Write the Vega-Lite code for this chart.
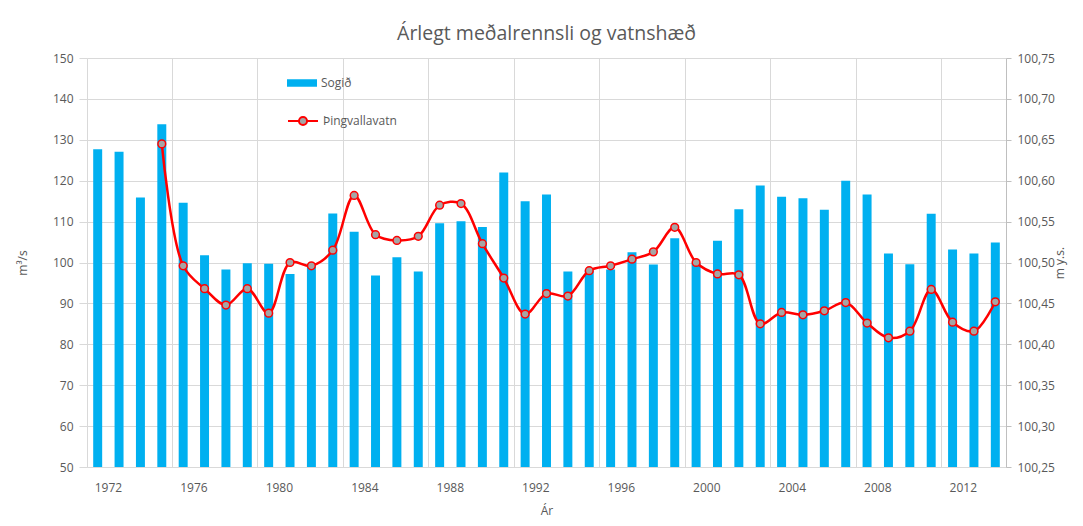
{
  "$schema": "https://vega.github.io/schema/vega-lite/v6.json",
  "width": 919,
  "height": 409,
  "autosize": "none",
  "padding": {"left": 87, "top": 58, "right": 77, "bottom": 59},
  "background": "white",
  "config": {
    "font": "Open Sans",
    "view": {"stroke": null},
    "axis": {"labelColor": "#595959", "titleColor": "#595959", "labelFontSize": 12, "titleFontSize": 12, "titleFontWeight": "normal", "gridColor": "#d9d9d9", "domainColor": "#d9d9d9", "tickColor": "#d9d9d9"},
    "legend": {"labelColor": "#595959", "labelFontSize": 12}
  },
  "title": {"text": "Árlegt meðalrennsli og vatnshæð", "fontSize": 19.5, "fontWeight": "normal", "color": "#595959", "anchor": "middle", "offset": 8},
  "data": {"values": [
    {"year": 1972, "sog": 127.7, "thing": null},
    {"year": 1973, "sog": 127.1, "thing": null},
    {"year": 1974, "sog": 115.9, "thing": null},
    {"year": 1975, "sog": 133.8, "thing": 100.645},
    {"year": 1976, "sog": 114.6, "thing": 100.496},
    {"year": 1977, "sog": 101.8, "thing": 100.468},
    {"year": 1978, "sog": 98.3, "thing": 100.448},
    {"year": 1979, "sog": 99.8, "thing": 100.468},
    {"year": 1980, "sog": 99.7, "thing": 100.438},
    {"year": 1981, "sog": 97.2, "thing": 100.500},
    {"year": 1982, "sog": 99.0, "thing": 100.496},
    {"year": 1983, "sog": 112.0, "thing": 100.515},
    {"year": 1984, "sog": 107.5, "thing": 100.582},
    {"year": 1985, "sog": 96.8, "thing": 100.534},
    {"year": 1986, "sog": 101.3, "thing": 100.527},
    {"year": 1987, "sog": 97.8, "thing": 100.532},
    {"year": 1988, "sog": 109.6, "thing": 100.570},
    {"year": 1989, "sog": 110.1, "thing": 100.572},
    {"year": 1990, "sog": 108.7, "thing": 100.523},
    {"year": 1991, "sog": 122.0, "thing": 100.481},
    {"year": 1992, "sog": 115.0, "thing": 100.437},
    {"year": 1993, "sog": 116.6, "thing": 100.462},
    {"year": 1994, "sog": 97.8, "thing": 100.459},
    {"year": 1995, "sog": 98.0, "thing": 100.490},
    {"year": 1996, "sog": 98.3, "thing": 100.496},
    {"year": 1997, "sog": 102.5, "thing": 100.504},
    {"year": 1998, "sog": 99.5, "thing": 100.513},
    {"year": 1999, "sog": 105.9, "thing": 100.543},
    {"year": 2000, "sog": 99.8, "thing": 100.500},
    {"year": 2001, "sog": 105.3, "thing": 100.486},
    {"year": 2002, "sog": 113.0, "thing": 100.485},
    {"year": 2003, "sog": 118.8, "thing": 100.425},
    {"year": 2004, "sog": 116.1, "thing": 100.439},
    {"year": 2005, "sog": 115.7, "thing": 100.436},
    {"year": 2006, "sog": 112.9, "thing": 100.441},
    {"year": 2007, "sog": 120.0, "thing": 100.451},
    {"year": 2008, "sog": 116.6, "thing": 100.426},
    {"year": 2009, "sog": 102.2, "thing": 100.408},
    {"year": 2010, "sog": 99.6, "thing": 100.416},
    {"year": 2011, "sog": 111.9, "thing": 100.467},
    {"year": 2012, "sog": 103.2, "thing": 100.427},
    {"year": 2013, "sog": 102.2, "thing": 100.416},
    {"year": 2014, "sog": 104.9, "thing": 100.452}
  ]},
  "encoding": {
    "x": {
      "field": "year", "type": "ordinal",
      "scale": {"paddingInner": 0, "paddingOuter": 0},
      "axis": {
        "title": "Ár", "titlePadding": 12,
        "values": [1972, 1976, 1980, 1984, 1988, 1992, 1996, 2000, 2004, 2008, 2012],
        "bandPosition": 0, "labelOffset": 10.7, "labelAngle": 0,
        "grid": true, "ticks": false, "labelPadding": 15,
        "domainColor": "#d9d9d9"
      }
    }
  },
  "layer": [
    {
      "mark": {"type": "bar", "width": {"band": 0.42}, "clip": true},
      "encoding": {
        "y": {"field": "sog", "type": "quantitative",
          "scale": {"domain": [50, 150], "zero": false, "nice": false},
          "axis": {"title": "m³/s", "values": [50,60,70,80,90,100,110,120,130,140,150], "labelOverlap": false, "domain": false, "ticks": true, "tickSize": 8, "tickColor": "#d9d9d9", "labelPadding": 6, "titlePadding": 23}},
        "fill": {"datum": "Sogið", "type": "nominal", "scale": {"domain": ["Sogið"], "range": ["#00B0F0"]},
          "legend": {"title": null, "orient": "none", "legendX": 200, "legendY": 10, "symbolType": "M-1,-0.25H1V0.25H-1Z", "symbolSize": 900, "symbolStrokeWidth": 0, "labelOffset": 4}}
      }
    },
    {
      "transform": [{"filter": "datum.thing != null"}],
      "layer": [
        {
          "mark": {"type": "line", "interpolate": "catmull-rom", "strokeWidth": 2.5},
          "encoding": {
            "y": {"field": "thing", "type": "quantitative",
              "scale": {"domain": [100.25, 100.75], "zero": false, "nice": false},
              "axis": {"orient": "right", "title": "m y.s.", "titleAngle": 270, "values": [100.25,100.3,100.35,100.4,100.45,100.5,100.55,100.6,100.65,100.7,100.75],
                "labelOverlap": false,
                "labelExpr": "replace(format(datum.value, '.2f'), '.', ',')", "grid": false, "domain": true, "domainColor": "#bfbfbf", "ticks": true, "tickSize": 5, "tickColor": "#bfbfbf", "labelPadding": 6, "titlePadding": 12}},
            "stroke": {"datum": "Þingvallavatn", "type": "nominal", "scale": {"domain": ["Þingvallavatn"], "range": ["#FF0000"]},
              "legend": {"title": null, "orient": "none", "legendX": 200, "legendY": 47, "symbolType": "M-1,0H-0.27A0.27,0.27 0 1,1 0.27,0A0.27,0.27 0 1,1 -0.27,0M0.27,0H1", "symbolSize": 900, "labelOffset": 4,
                "symbolFillColor": "#A5A5A5", "symbolStrokeColor": "#FF0000", "symbolStrokeWidth": 2,
                "encode": {"symbols": {"update": {"fill": {"value": "#A5A5A5"}, "stroke": {"value": "#FF0000"}, "strokeWidth": {"value": 2}}}}}}
          }
        },
        {
          "mark": {"type": "point", "filled": true, "fill": "#A5A5A5", "stroke": "#FF0000", "strokeWidth": 1.5, "size": 60, "opacity": 1},
          "encoding": {
            "y": {"field": "thing", "type": "quantitative"}
          }
        }
      ]
    }
  ],
  "resolve": {"scale": {"y": "independent", "fill": "independent", "stroke": "independent"}}
}
